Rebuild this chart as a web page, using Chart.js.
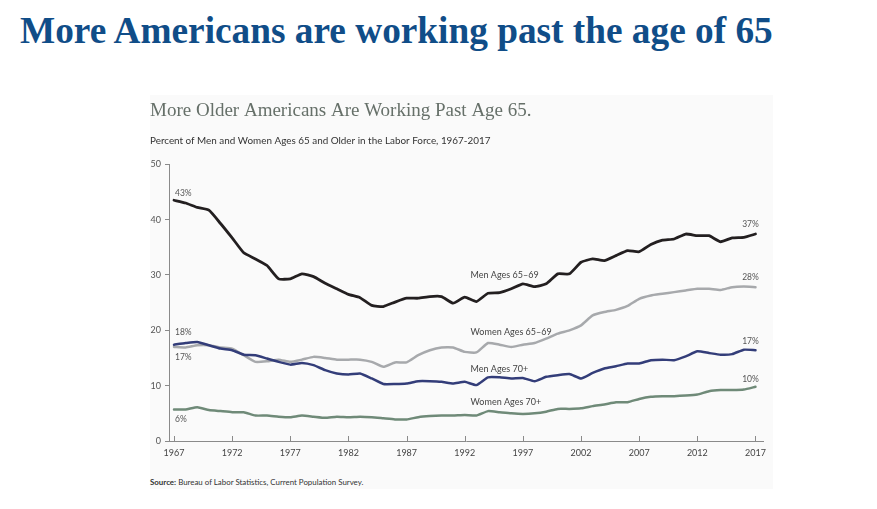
<!DOCTYPE html>
<html>
<head>
<meta charset="utf-8">
<script src="https://cdn.jsdelivr.net/npm/chart.js@4.4.1/dist/chart.umd.min.js"></script>
<style>
  body { margin: 0; background: #ffffff; width: 877px; height: 509px; position: relative; overflow: hidden; }
  #pageTitle { position: absolute; left: 20px; top: 12px; font-family: "Liberation Serif", serif; font-weight: bold; font-size: 37.3px; line-height: 1; color: #104d88; white-space: nowrap; }
  #panel { position: absolute; left: 150px; top: 95px; width: 623px; height: 394px; background: #fafafa; }
  #wrap { position: absolute; left: 0; top: 0; width: 623px; height: 370px; }
  #source { position: absolute; left: 0; top: 382px; font-family: Lato, sans-serif; font-size: 7.9px; color: #333; white-space: nowrap; }
</style>
</head>
<body>
<div id="pageTitle">More Americans are working past the age of 65</div>
<div id="panel">
  <div id="wrap"><canvas id="bgChart"></canvas></div>
  <div id="source"><b>Source:</b> Bureau of Labor Statistics, Current Population Survey.</div>
</div>
<script>
const years = [1967, 1968, 1969, 1970, 1971, 1972, 1973, 1974, 1975, 1976,
    1977, 1978, 1979, 1980, 1981, 1982, 1983, 1984, 1985, 1986,
    1987, 1988, 1989, 1990, 1991, 1992, 1993, 1994, 1995, 1996,
    1997, 1998, 1999, 2000, 2001, 2002, 2003, 2004, 2005, 2006,
    2007, 2008, 2009, 2010, 2011, 2012, 2013, 2014, 2015, 2016, 2017];

const men6569 = [43.5, 43.0, 42.2, 41.7, 39.3, 36.7, 34.0, 32.9, 31.7, 29.3,
    29.3, 30.2, 29.7, 28.5, 27.5, 26.5, 25.9, 24.5, 24.3, 25.1,
    25.8, 25.8, 26.1, 26.1, 24.9, 26.0, 25.2, 26.7, 26.8, 27.5,
    28.4, 27.9, 28.4, 30.2, 30.2, 32.3, 32.9, 32.6, 33.5, 34.4,
    34.2, 35.5, 36.3, 36.5, 37.4, 37.1, 37.1, 36.0, 36.7, 36.8, 37.4];

const women6569 = [17.0, 16.9, 17.3, 17.3, 16.9, 16.7, 15.5, 14.3, 14.4, 14.7,
    14.3, 14.7, 15.2, 15.0, 14.7, 14.7, 14.7, 14.3, 13.4, 14.2,
    14.2, 15.5, 16.4, 16.9, 16.9, 16.1, 16.0, 17.7, 17.4, 17.0,
    17.4, 17.7, 18.5, 19.4, 20.0, 20.9, 22.7, 23.3, 23.7, 24.4,
    25.7, 26.3, 26.6, 26.9, 27.2, 27.5, 27.5, 27.3, 27.8, 27.9, 27.8];

const men70 = [17.4, 17.7, 17.9, 17.3, 16.7, 16.4, 15.6, 15.5, 14.9, 14.3,
    13.8, 14.1, 13.7, 12.8, 12.2, 12.0, 12.2, 11.3, 10.3, 10.3,
    10.4, 10.8, 10.8, 10.7, 10.4, 10.7, 10.1, 11.5, 11.5, 11.3,
    11.4, 10.8, 11.6, 11.9, 12.1, 11.3, 12.3, 13.1, 13.5, 14.0,
    14.0, 14.6, 14.7, 14.6, 15.3, 16.2, 15.9, 15.6, 15.7, 16.5, 16.4];

const women70 = [5.7, 5.7, 6.1, 5.6, 5.4, 5.2, 5.2, 4.6, 4.6, 4.4,
    4.3, 4.6, 4.4, 4.2, 4.4, 4.3, 4.4, 4.3, 4.1, 3.9,
    3.9, 4.3, 4.5, 4.6, 4.6, 4.7, 4.6, 5.4, 5.2, 5.0,
    4.9, 5.0, 5.3, 5.8, 5.8, 5.9, 6.3, 6.6, 7.0, 7.0,
    7.6, 8.0, 8.1, 8.1, 8.2, 8.4, 9.0, 9.2, 9.2, 9.3, 9.8];

const seriesNames = ['Men Ages 65\u201369', 'Men Ages 70+', 'Women Ages 65\u201369', 'Women Ages 70+'];
const startLabels = ['43%', '18%', '17%', '6%'];
const endLabels = ['37%', '17%', '28%', '10%'];
const xTicks = [1967, 1972, 1977, 1982, 1987, 1992, 1997, 2002, 2007, 2012, 2017];
const yTicks = [0, 10, 20, 30, 40, 50];

// where the series names sit, in chart units (year, percent)
const nameAnchors = [[1992.5, 29.9], [1992.5, 13.0], [1992.5, 19.7], [1992.5, 7.1]];
const startOffsets = [-7, -12, 10, 10];
const endOffsets = [-10, -9, -10, -7];

function pts(vals) {
    return years.map(function (y, i) { return { x: y, y: vals[i] }; });
}

const sans = 'Lato, "Open Sans", sans-serif';

const annotate = {
    id: 'annotate',
    afterDatasetsDraw: function (chart) {
        const ctx = chart.ctx;
        const xs = chart.scales.x, ys = chart.scales.y;
        const bottom = chart.chartArea.bottom;
        ctx.save();
        // x ticks point up into the plot
        ctx.strokeStyle = '#8a8a8a';
        ctx.lineWidth = 1;
        xTicks.forEach(function (t) {
            const px = Math.round(xs.getPixelForValue(t)) + 0.5;
            ctx.beginPath();
            ctx.moveTo(px, bottom - 5);
            ctx.lineTo(px, bottom + 1);
            ctx.stroke();
        });
        ctx.font = '8.5px ' + sans;
        ctx.fillStyle = '#555';
        ctx.textBaseline = 'middle';
        chart.data.datasets.forEach(function (ds, i) {
            const first = ds.data[0], last = ds.data[ds.data.length - 1];
            ctx.textAlign = 'left';
            ctx.fillText(startLabels[i], xs.getPixelForValue(first.x) + 1, ys.getPixelForValue(first.y) + startOffsets[i]);
            ctx.textAlign = 'center';
            ctx.fillText(endLabels[i], xs.getPixelForValue(last.x) - 5, ys.getPixelForValue(last.y) + endOffsets[i]);
        });
        ctx.font = '9px ' + sans;
        ctx.fillStyle = '#444';
        ctx.textAlign = 'left';
        seriesNames.forEach(function (n, i) {
            ctx.fillText(n, xs.getPixelForValue(nameAnchors[i][0]), ys.getPixelForValue(nameAnchors[i][1]));
        });
        ctx.restore();
    }
};

const colors = ['#231f20', '#333d79', '#a7a9ac', '#6f8a78'];

const datas = {
    datasets: [men6569, men70, women6569, women70].map(function (v, i) {
        return {
            label: seriesNames[i],
            data: pts(v),
            borderColor: colors[i],
            borderWidth: i === 0 ? 2.8 : 2.5,
            pointRadius: 0,
            tension: 0.15,
            borderJoinStyle: 'round',
            borderCapStyle: 'round',
            fill: false
        };
    })
};

const configs = {
    type: 'line',
    data: datas,
    options: {
        responsive: true,
        maintainAspectRatio: false,
        animation: { duration: 0 },
        layout: { padding: { left: 0, right: 5, top: 0, bottom: 0 } },
        scales: {
            x: {
                type: 'linear',
                min: 1966.57,
                max: 2017.68,
                afterBuildTicks: function (s) { s.ticks = xTicks.map(function (v) { return { value: v }; }); },
                afterFit: function (s) { s.height = 24; },
                grid: { display: true, drawOnChartArea: false, drawTicks: false },
                border: { display: true, color: '#8a8a8a', width: 1 },
                ticks: {
                    padding: 7,
                    autoSkip: false,
                    maxRotation: 0,
                    color: '#444',
                    font: { family: sans, size: 9 },
                    callback: function (v) { return String(v); }
                }
            },
            y: {
                min: 0,
                max: 50,
                afterBuildTicks: function (s) { s.ticks = yTicks.map(function (v) { return { value: v }; }); },
                afterFit: function (s) { s.width = 19; },
                grid: { display: true, drawOnChartArea: false, drawTicks: true, tickLength: 4, color: '#8a8a8a' },
                border: { display: true, color: '#8a8a8a', width: 1 },
                ticks: {
                    padding: 4,
                    color: '#555',
                    font: { family: sans, size: 9 }
                }
            }
        },
        plugins: {
            legend: { display: false },
            tooltip: { enabled: false },
            title: {
                display: true,
                text: 'More Older Americans Are Working Past Age 65.',
                align: 'start',
                color: '#667069',
                font: { family: '"Liberation Serif", serif', size: 19, weight: 'normal' },
                padding: { top: 5, bottom: 12.4 }
            },
            subtitle: {
                display: true,
                text: 'Percent of Men and Women Ages 65 and Older in the Labor Force, 1967-2017',
                align: 'start',
                color: '#333',
                font: { family: sans, size: 9.9 },
                padding: { top: 0, bottom: 17.2 }
            }
        }
    },
    plugins: [annotate]
};

const ctxs = document.getElementById('bgChart').getContext('2d');
new Chart(ctxs, configs);
</script>
</body>
</html>
